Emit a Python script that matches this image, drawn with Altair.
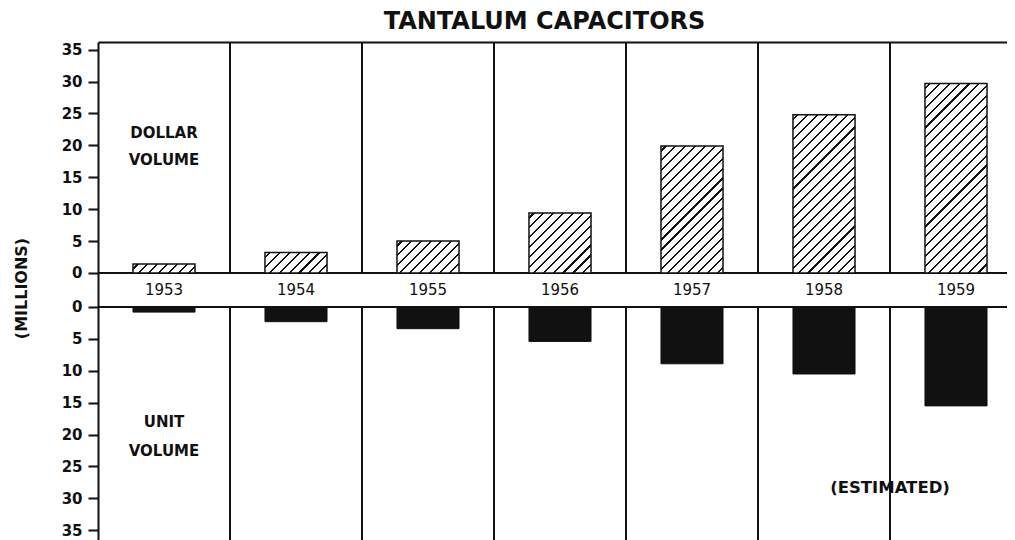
import math
import altair as alt
import pandas as pd

# ---------------- data ----------------
years = [1953, 1954, 1955, 1956, 1957, 1958, 1959]
dollar_volume = [1.4, 3.2, 5.0, 9.4, 19.9, 24.8, 29.7]   # millions of dollars
unit_volume = [0.8, 2.3, 3.4, 5.4, 8.9, 10.5, 15.5]      # millions of units
tick_values = [0, 5, 10, 15, 20, 25, 30, 35]
title_text = ["TANTALUM CAPACITORS"]

note_text = ["DOLLAR", "VOLUME", "UNIT", "VOLUME", "(ESTIMATED)"]
note_col = [0.5, 0.5, 0.5, 0.5, 6.0]
note_val = [22.0, 17.7, 18.1, 22.6, 28.4]
note_panel = [1, 1, -1, -1, -1]
note_size = [15, 15, 15, 15, 16.5]

# ---------------- layout ----------------
INK = "#111111"
BG = "#ffffff"
FONT = "DejaVu Sans"
COLW = 132.0
W = 909            # plot area ends at the page's right margin
H = 518
GAP = 2.665        # half of the year band, in chart units
Y_TOP = 38.87
Y_BOT = -42.32
X_MAX = W / COLW
K = H / (Y_TOP - Y_BOT)        # px per million
BAR_W = 0.47

df = pd.DataFrame({"year": years, "dollar": dollar_volume, "unit": unit_volume})
df["idx"] = range(len(years))
df["x0"] = df["idx"] + 0.5 - BAR_W / 2
df["x1"] = df["idx"] + 0.5 + BAR_W / 2
df["mid"] = df["idx"] + 0.5
df["top0"] = GAP
df["top1"] = GAP + df["dollar"]
df["bot0"] = -GAP
df["bot1"] = -(GAP + df["unit"])
df["zero"] = 0.0

seps = pd.DataFrame({"sep": list(range(1, 7))})
seps["t0"] = GAP
seps["t1"] = Y_TOP
seps["b0"] = -GAP
seps["b1"] = Y_BOT

zeros = pd.DataFrame({"z": [GAP, -GAP]})

notes = pd.DataFrame({"text": note_text, "col": note_col, "size": note_size})
notes["y"] = [p * (GAP + v) for p, v in zip(note_panel, note_val)]

yvals = [GAP + v for v in tick_values] + [-(GAP + v) for v in tick_values]

xscale = alt.Scale(domain=[0, X_MAX], nice=False, zero=False)
yscale = alt.Scale(domain=[Y_BOT, Y_TOP], nice=False, zero=False)

xaxis = alt.Axis(orient="top", labels=False, ticks=False, grid=False, domain=True,
                 domainColor=INK, domainWidth=2, title=None, minExtent=0, maxExtent=0)
yaxis = alt.Axis(values=yvals, grid=False,
                 labelExpr=f"toString(round(abs(datum.value) - {GAP}))",
                 labelFont=FONT, labelFontSize=15, labelFontWeight="bold", labelColor=INK,
                 labelPadding=6, tickSize=10, tickWidth=2, tickColor=INK,
                 domainColor=INK, domainWidth=2,
                 title="(MILLIONS)", titleFont=FONT, titleFontSize=16, titleFontWeight="bold",
                 titleColor=INK, titleX=-77, titleY=246, titleAngle=270,
                 titleAlign="center", titleBaseline="middle")


def X(f):
    return alt.X(f, type="quantitative", scale=xscale, axis=xaxis)


def Y(f):
    return alt.Y(f, type="quantitative", scale=yscale, axis=yaxis)


def hatch(value, spacing=7.0, lw=1.5):
    w = BAR_W * COLW
    h = max(value * K, 1.0)
    s = w + h
    n2 = w * w + h * h
    x2 = w * s / n2
    y2 = h * s / n2
    period = spacing / (s / math.sqrt(2))
    half = (lw / spacing) * period / 2
    stops = [{"offset": 0, "color": BG}]
    c = period / 2
    while c - half < 1:
        a = max(c - half, 0)
        b = min(c + half, 1)
        stops += [{"offset": a, "color": BG}, {"offset": a, "color": INK},
                  {"offset": b, "color": INK}, {"offset": b, "color": BG}]
        c += period
    stops.append({"offset": 1, "color": BG})
    return {"gradient": "linear", "x1": 0, "y1": 0, "x2": x2, "y2": y2, "stops": stops}


base = alt.Chart(df)

zero_rules = alt.Chart(zeros).mark_rule(color=INK, strokeWidth=2).encode(y=Y("z"))

sep_top = alt.Chart(seps).mark_rule(color=INK, strokeWidth=2).encode(
    x=X("sep"), y=Y("t0"), y2="t1")
sep_bot = alt.Chart(seps).mark_rule(color=INK, strokeWidth=2).encode(
    x=X("sep"), y=Y("b0"), y2="b1")

top_bars = [
    base.mark_bar(fill=hatch(v), stroke=INK, strokeWidth=1.5)
    .encode(x=X("x0"), x2="x1", y=Y("top0"), y2="top1")
    .transform_filter(alt.datum.year == yr)
    for yr, v in zip(years, dollar_volume)
]

bot_bars = base.mark_bar(fill=INK, stroke=INK, strokeWidth=1).encode(
    x=X("x0"), x2="x1", y=Y("bot0"), y2="bot1")

year_text = base.mark_text(font=FONT, fontSize=15, color=INK,
                           baseline="middle", align="center").encode(
    x=X("mid"), y=Y("zero"), text="year:N")

note_marks = alt.Chart(notes).mark_text(font=FONT, fontWeight="bold", color=INK,
                                        baseline="middle", align="center").encode(
    x=X("col"), y=Y("y"), text="text:N",
    size=alt.Size("size:Q", scale=None, legend=None))

title_mark = alt.Chart(pd.DataFrame({"t": title_text})).mark_text(
    font=FONT, fontSize=24, fontWeight="bold", color=INK,
    baseline="alphabetic", align="center").encode(
    text="t:N", x=alt.value(W / 2 - 8), y=alt.value(-13))

chart = alt.layer(
    zero_rules, sep_top, sep_bot, *top_bars, bot_bars, year_text, note_marks, title_mark
).properties(
    width=W, height=H,
    autosize=alt.AutoSizeParams(type="none"),
    padding={"left": 90, "top": 34, "right": 0, "bottom": 0},
    background=BG,
).configure_view(stroke=None)

chart.save("out.html", embed_options={"renderer": "svg", "actions": False})
